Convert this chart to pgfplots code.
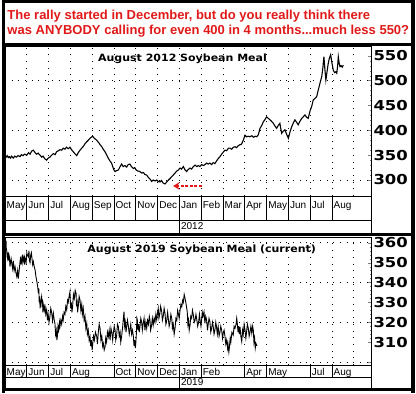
\documentclass[border=0pt]{standalone}
\usepackage{pgfplots}
\pgfplotsset{compat=1.18}
\usepackage{fontspec}
\setmainfont{Liberation Sans}
\newfontfamily\dejavu{DejaVu Sans}
\usetikzlibrary{arrows.meta}
\definecolor{ttlred}{RGB}{225,25,25}
\begin{document}
\begin{tikzpicture}[x=1pt,y=1pt]
\path[use as bounding box, fill=white] (0,0) rectangle (416,394);
\pgfplotsset{
 mainax/.style={scale only axis, width=366pt, anchor=south west, xmin=0, xmax=16.79,
   xtick={1,...,16}, xticklabels={}, xtick style={draw=none}, xmajorgrids,
   ytick pos=right, yticklabel pos=right, tick align=inside,
   major tick length=3pt, minor tick length=1.5pt, minor y tick num=4,
   /pgf/number format/assume math mode=true,
   yticklabel style={font=\dejavu\bfseries\fontsize{13.7}{14}\selectfont, anchor=west, inner sep=0pt, xshift=2.3pt},
   yticklabel={\scalebox{1.2}[1]{\pgfmathprintnumber{\tick}}},
   grid style={black, line width=0.9pt, dash pattern=on 0.9pt off 5.8pt},
   axis line style={black, line width=0.8pt}},
 bandax/.style={scale only axis, width=366pt, anchor=south west, xmin=0, xmax=16.79, ymin=0, ymax=1,
   ytick=\empty, major tick length=0pt, xmajorgrids,
   grid style={black, solid, line width=0.8pt}, axis line style={black, line width=0.8pt},
   xticklabel style={font=\fontsize{10}{10}\selectfont, anchor=base west, inner sep=0pt, xshift=1.5pt}},
}
% ---------- top panel ----------
\begin{axis}[mainax, at={(5pt,198pt)}, height=150pt, ymin=267.8, ymax=569.6,
  ytick={300,350,...,550}, extra y ticks={300,400,500}, extra y tick labels={},
  extra y tick style={grid=major}]
\addplot[black, line width=1.1pt] coordinates {
(0.00,350)(0.05,346)(0.10,349)(0.15,345)(0.20,347)(0.25,344)(0.30,348)(0.38,344)(0.45,348)(0.52,346)
(0.60,349)(0.69,347)(0.75,351)(0.82,349)(0.90,352)(1.00,350)(1.08,355)(1.15,352)(1.22,358)(1.30,360)
(1.38,355)(1.45,352)(1.52,354)(1.61,350)(1.68,346)(1.75,348)(1.82,343)(1.91,340)(1.98,344)(2.06,346)
(2.14,350)(2.22,353)(2.30,351)(2.37,357)(2.45,359)(2.52,361)(2.60,360)(2.67,364)(2.75,362)(2.82,366)
(2.90,363)(2.98,366)(3.05,361)(3.13,357)(3.20,353)(3.29,349)(3.36,355)(3.44,360)(3.52,364)(3.60,368)
(3.67,373)(3.75,377)(3.82,380)(3.90,384)(4.02,388)(4.10,384)(4.21,380)(4.30,375)(4.38,370)(4.44,367)
(4.52,361)(4.60,356)(4.67,350)(4.75,343)(4.82,338)(4.89,334)(4.95,326)(5.00,320)(5.05,317)(5.12,319)
(5.20,320)(5.28,327)(5.35,332)(5.42,327)(5.50,329)(5.58,326)(5.65,331)(5.73,332)(5.80,327)(5.89,323)
(5.95,325)(6.02,320)(6.10,318)(6.19,317)(6.27,314)(6.35,315)(6.42,311)(6.50,310)(6.58,305)(6.65,302)
(6.73,297)(6.80,300)(6.88,298)(6.96,300)(7.03,297)(7.11,296)(7.18,299)(7.25,294)(7.34,292)(7.42,296)
(7.50,300)(7.57,303)(7.65,307)(7.72,310)(7.80,314)(7.88,318)(7.95,320)(8.03,324)(8.10,322)(8.18,327)
(8.25,321)(8.33,317)(8.40,321)(8.49,324)(8.56,322)(8.64,327)(8.72,330)(8.80,327)(8.87,329)(8.94,327)
(9.02,331)(9.10,329)(9.17,331)(9.25,334)(9.32,332)(9.40,334)(9.48,331)(9.55,335)(9.63,333)(9.70,338)
(9.78,343)(9.86,347)(9.94,352)(10.01,356)(10.09,360)(10.17,359)(10.25,364)(10.32,364)(10.40,362)(10.48,366)
(10.55,367)(10.62,365)(10.70,369)(10.78,371)(10.85,372)(10.93,380)(11.01,390)(11.08,387)(11.16,388)(11.24,387)
(11.32,389)(11.40,386)(11.47,388)(11.55,387)(11.62,391)(11.70,404)(11.78,410)(11.85,417)(11.93,422)(12.00,427)
(12.08,424)(12.16,421)(12.23,418)(12.31,414)(12.38,409)(12.46,404)(12.54,410)(12.61,414)(12.69,394)(12.76,398)
(12.84,401)(12.92,392)(13.00,384)(13.07,396)(13.15,407)(13.22,414)(13.30,421)(13.38,416)(13.45,411)(13.53,418)
(13.61,424)(13.68,427)(13.76,431)(13.84,426)(13.91,424)(14.00,440)(14.07,448)(14.14,461)(14.22,464)(14.30,468)
(14.37,481)(14.45,495)(14.53,508)(14.58,525)(14.63,548)(14.68,520)(14.72,501)(14.78,520)(14.83,535)(14.88,545)
(14.94,552)(15.00,535)(15.06,521)(15.12,516)(15.18,518)(15.22,515)(15.26,530)(15.29,548)(15.33,535)(15.37,528)
(15.42,530)(15.47,527)(15.52,531)
};
\draw[ttlred, line width=1.4pt, dash pattern=on 3pt off 1.6pt, -{Stealth[length=6.5pt,width=7.5pt]}]
  (axis cs:9.04,288) -- (axis cs:7.71,288);
\end{axis}
\begin{axis}[bandax, at={(5pt,174pt)}, height=24pt, xtick={0,...,15},
  xticklabels={May,Jun,Jul,Aug,Sep,Oct,Nov,Dec,Jan,Feb,Mar,Apr,May,Jun,Jul,Aug},
  xticklabel style={yshift=11.5pt}]
\addplot[draw=none] coordinates {(0,0)};
\end{axis}
\begin{axis}[bandax, at={(5pt,161pt)}, height=13pt, xtick={8}, xticklabels={2012},
  xticklabel style={yshift=3pt}]
\addplot[draw=none] coordinates {(0,0)};
\end{axis}
% ---------- bottom panel ----------
\begin{axis}[mainax, at={(5pt,29pt)}, height=128pt, ymin=298.5, ymax=362.9,
  ytick={310,320,...,360}, extra y ticks={300,320,340,360}, extra y tick labels={},
  extra y tick style={grid=major}]
\addplot[black, line width=0.9pt] coordinates {
(0.05,361)(0.06,357)(0.08,356)(0.10,353)(0.12,352)(0.14,355)(0.15,351)(0.18,354)(0.20,353)(0.23,348)
(0.25,350)(0.28,352)(0.31,349.6)(0.35,347)(0.38,351)(0.42,346)(0.46,348)(0.50,345)(0.54,343)(0.58,346)
(0.61,342)(0.65,346)(0.69,350.5)(0.72,353)(0.74,349)(0.77,351.3)(0.80,354)(0.82,350)(0.87,353)(0.90,349)
(0.92,352.2)(0.97,350)(1.00,355)(1.02,354)(1.07,353)(1.10,356)(1.12,351)(1.15,350)(1.18,353.8)(1.21,355)
(1.24,352)(1.27,349)(1.30,350.5)(1.34,348)(1.38,346.3)(1.42,343)(1.45,341.3)(1.50,338)(1.53,334.6)(1.55,337)
(1.57,330)(1.59,333)(1.61,327)(1.65,331)(1.68,332.9)(1.70,329)(1.72,330)(1.74,325)(1.76,328.7)(1.80,326)
(1.83,329)(1.87,324)(1.91,326.2)(1.95,321)(1.98,324)(2.02,320)(2.06,322.8)(2.10,327)(2.14,325)(2.18,321)
(2.22,324.5)(2.26,321)(2.29,319.5)(2.32,314)(2.35,316)(2.38,311)(2.40,312.8)(2.43,318)(2.46,316)(2.50,320)
(2.52,317.8)(2.56,321)(2.60,319)(2.64,323)(2.67,321.2)(2.71,325)(2.75,324)(2.79,328)(2.83,326.2)(2.87,331)
(2.90,330)(2.94,333)(2.98,335.4)(3.01,327)(3.04,330)(3.07,325)(3.10,327.8)(3.14,334)(3.18,332)(3.22,336)
(3.26,334.6)(3.28,328)(3.31,330)(3.33,325)(3.36,327.8)(3.40,333)(3.44,331.2)(3.48,326)(3.52,329)(3.55,324)
(3.59,327)(3.63,321)(3.67,323)(3.71,317)(3.75,319.5)(3.78,314)(3.82,316)(3.86,311)(3.90,312.8)(3.93,308)
(3.96,311)(4.00,306)(4.02,308.6)(4.06,313)(4.10,311)(4.15,315)(4.21,312.8)(4.24,309)(4.28,315)(4.32,319)
(4.36,317)(4.40,311)(4.44,313)(4.48,308)(4.51,309.4)(4.55,306)(4.59,307.7)(4.62,312)(4.66,310)(4.70,315)
(4.74,312.8)(4.78,316)(4.82,311)(4.86,317)(4.90,315)(4.94,311)(4.97,314.5)(5.01,318)(5.05,316)(5.08,311)
(5.12,313)(5.16,319)(5.20,317.8)(5.24,313)(5.28,315)(5.31,310)(5.35,312.8)(5.38,316)(5.40,318)(5.43,322)
(5.46,325.3)(5.49,318)(5.52,320)(5.55,315)(5.58,317.8)(5.62,321)(5.66,318)(5.70,314)(5.73,316.1)(5.77,319)
(5.81,314)(5.85,316)(5.89,312.8)(5.92,308)(5.95,311)(5.98,307)(6.00,309.4)(6.03,315)(6.05,322)(6.07,321.2)
(6.10,316)(6.13,319)(6.16,315)(6.19,317.8)(6.23,322)(6.27,320)(6.30,316)(6.34,319.5)(6.38,322)(6.42,316)
(6.46,320)(6.50,317)(6.54,321)(6.58,319)(6.62,323)(6.65,321.2)(6.68,316)(6.72,318)(6.76,322)(6.80,318.6)
(6.84,322)(6.88,320)(6.92,324)(6.96,321.2)(7.00,325)(7.03,327)(7.06,322)(7.10,324)(7.14,328)(7.19,325.3)
(7.22,321)(7.26,323)(7.30,327)(7.34,324.5)(7.38,319)(7.42,321)(7.46,325)(7.49,322)(7.53,318)(7.57,320)
(7.61,324)(7.65,322)(7.68,317)(7.72,319)(7.76,314)(7.80,317)(7.84,322)(7.88,321)(7.92,326)(7.95,324.5)
(7.99,322)(8.03,326)(8.07,329)(8.11,327.8)(8.15,331)(8.18,330)(8.22,334)(8.26,332)(8.31,329)(8.36,325.3)
(8.39,319)(8.42,321)(8.45,316)(8.49,318.6)(8.52,323)(8.56,322)(8.60,326)(8.64,323.7)(8.68,320)(8.72,321)
(8.76,324)(8.79,322)(8.84,318)(8.88,320)(8.92,324)(8.95,321)(8.99,318)(9.02,321.2)(9.05,325)(9.08,323)
(9.13,325.3)(9.17,319.5)(9.21,323)(9.25,321)(9.29,316)(9.32,319)(9.36,322)(9.40,320.3)(9.44,315)(9.48,317)
(9.52,320)(9.55,318)(9.59,314)(9.63,316.1)(9.67,320)(9.70,318)(9.74,314)(9.78,317.8)(9.82,313)(9.86,315)
(9.90,318)(9.94,316)(9.98,312)(10.01,314.5)(10.05,316)(10.09,313)(10.13,309)(10.17,311.1)(10.21,307)(10.23,309)
(10.27,305)(10.29,306.9)(10.33,312)(10.36,310)(10.41,315)(10.47,313.6)(10.51,318)(10.55,317)(10.60,319)(10.63,322)
(10.65,320.3)(10.69,315)(10.72,318)(10.75,314)(10.78,317.8)(10.82,313)(10.86,310.3)(10.90,316)(10.93,314)(10.97,319)
(11.01,316.1)(11.05,312)(11.08,315)(11.12,319)(11.16,317)(11.20,313)(11.24,315)(11.28,318)(11.32,314.5)(11.36,318)
(11.39,316.1)(11.42,310)(11.45,312)(11.48,307)(11.51,309.4)(11.56,308.1)
};
\end{axis}
\begin{axis}[bandax, at={(5pt,17pt)}, height=12pt, xtick={0,1,2,3,5,6,7,8,9,11,12,14,15},
  xticklabels={May,Jun,Jul,Aug,Oct,Nov,Dec,Jan,Feb,Apr,May,Jul,Aug},
  xticklabel style={yshift=1.8pt}]
\addplot[draw=none] coordinates {(0,0)};
\end{axis}
\begin{axis}[bandax, at={(5pt,5.5pt)}, height=11.5pt, xtick={8}, xticklabels={2019},
  xticklabel style={yshift=2.5pt}]
\addplot[draw=none] coordinates {(0,0)};
\end{axis}
% ---------- titles ----------
\node[anchor=base west, ttlred, font=\bfseries\fontsize{13}{13}\selectfont, inner sep=0pt] at (7.3,374)
  {The rally started in December, but do you really think there};
\node[anchor=base west, ttlred, font=\bfseries\fontsize{13}{13}\selectfont, inner sep=0pt] at (7.3,359)
  {was ANYBODY calling for even 400 in 4 months...much less 550?};
\node[anchor=base, font=\dejavu\bfseries\fontsize{10}{10}\selectfont, inner sep=0pt] at (182.5,332.3)
  {\scalebox{1.1}[1]{August 2012 Soybean Meal}};
\node[anchor=base, font=\dejavu\bfseries\fontsize{10}{10}\selectfont, inner sep=0pt] at (201.7,141.3)
  {\scalebox{1.1}[1]{August 2019 Soybean Meal (current)}};
% ---------- frame ----------
\draw[line width=3pt] (3.2,0.5) -- (3.2,394);
\draw[line width=3.6pt] (412.8,0.5) -- (412.8,394);
\draw[line width=2.6pt] (1.7,392.7) -- (414.6,392.7);
\draw[line width=3pt] (1.7,349.6) -- (414.6,349.6);
\draw[line width=3pt] (1.7,159.2) -- (414.6,159.2);
\draw[line width=3.4pt] (1.7,4.2) -- (414.6,4.2);
\end{tikzpicture}
\end{document}
